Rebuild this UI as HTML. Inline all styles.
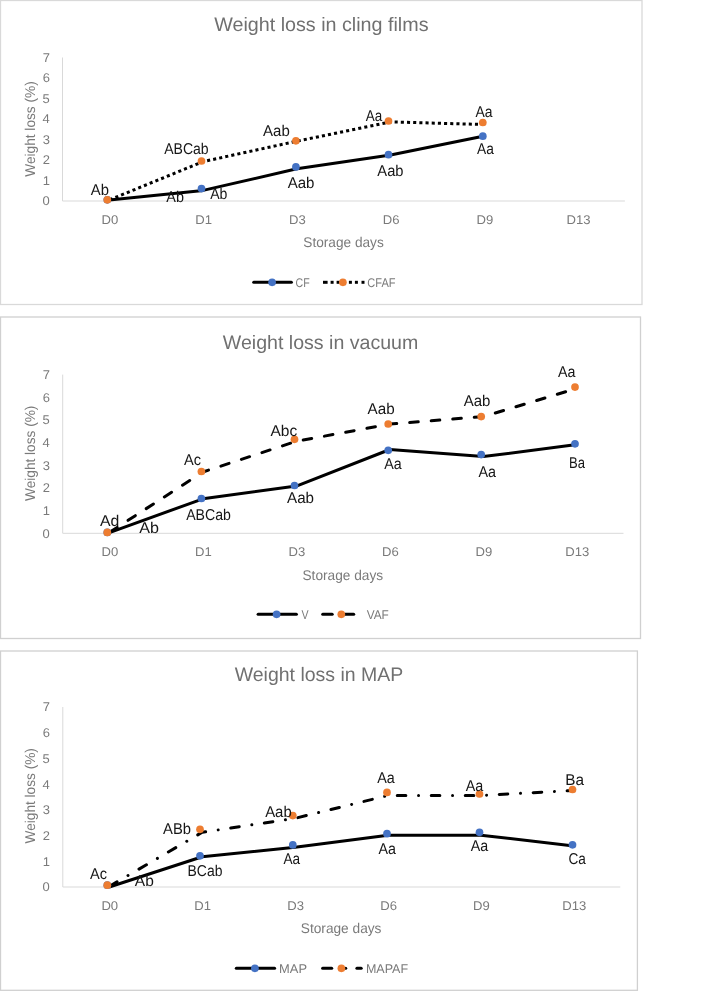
<!DOCTYPE html>
<html><head><meta charset="utf-8"><title>Weight loss charts</title>
<style>
html,body{margin:0;padding:0;background:#fff;}
body{width:722px;height:992px;overflow:hidden;}
svg{display:block;will-change:transform;}
text{font-family:"Liberation Sans", sans-serif;text-rendering:geometricPrecision;}
</style></head>
<body>
<svg width="722" height="992" viewBox="0 0 722 992">
<rect x="0" y="0" width="722" height="992" fill="#fff"/>
<rect x="0.5" y="0.5" width="641.5" height="304.0" fill="#fff" stroke="#d9d9d9" stroke-width="1.3"/>
<text x="214.21" y="31.00" font-size="19.5" fill="#707070" textLength="214.30" lengthAdjust="spacingAndGlyphs">Weight loss in cling films</text>
<line x1="62.5" y1="57.5" x2="62.5" y2="201" stroke="#d9d9d9" stroke-width="1"/>
<line x1="62.5" y1="201" x2="624.9" y2="201" stroke="#d9d9d9" stroke-width="1"/>
<text x="42.59" y="205.40" font-size="12.6" fill="#7a7a7a" textLength="7.22" lengthAdjust="spacingAndGlyphs">0</text>
<text x="42.72" y="184.90" font-size="12.6" fill="#7a7a7a" textLength="7.22" lengthAdjust="spacingAndGlyphs">1</text>
<text x="42.73" y="164.40" font-size="12.6" fill="#7a7a7a" textLength="7.22" lengthAdjust="spacingAndGlyphs">2</text>
<text x="42.65" y="143.90" font-size="12.6" fill="#7a7a7a" textLength="7.22" lengthAdjust="spacingAndGlyphs">3</text>
<text x="42.46" y="123.40" font-size="12.6" fill="#7a7a7a" textLength="7.22" lengthAdjust="spacingAndGlyphs">4</text>
<text x="42.63" y="102.90" font-size="12.6" fill="#7a7a7a" textLength="7.22" lengthAdjust="spacingAndGlyphs">5</text>
<text x="42.65" y="82.40" font-size="12.6" fill="#7a7a7a" textLength="7.22" lengthAdjust="spacingAndGlyphs">6</text>
<text x="42.73" y="61.90" font-size="12.6" fill="#7a7a7a" textLength="7.22" lengthAdjust="spacingAndGlyphs">7</text>
<text transform="translate(34.9,129.4) rotate(-90)" x="-47.31" y="0" font-size="14.2" fill="#7a7a7a" textLength="95.40" lengthAdjust="spacingAndGlyphs">Weight loss (%)</text>
<text x="101.51" y="223.60" font-size="12.6" fill="#7a7a7a" textLength="16.75" lengthAdjust="spacingAndGlyphs">D0</text>
<text x="195.31" y="223.60" font-size="12.6" fill="#7a7a7a" textLength="16.75" lengthAdjust="spacingAndGlyphs">D1</text>
<text x="289.01" y="223.60" font-size="12.6" fill="#7a7a7a" textLength="16.75" lengthAdjust="spacingAndGlyphs">D3</text>
<text x="382.74" y="223.60" font-size="12.6" fill="#7a7a7a" textLength="16.75" lengthAdjust="spacingAndGlyphs">D6</text>
<text x="476.50" y="223.60" font-size="12.6" fill="#7a7a7a" textLength="16.75" lengthAdjust="spacingAndGlyphs">D9</text>
<text x="566.56" y="223.60" font-size="12.6" fill="#7a7a7a" textLength="24.04" lengthAdjust="spacingAndGlyphs">D13</text>
<text x="303.28" y="247.00" font-size="14.1" fill="#7a7a7a" textLength="80.51" lengthAdjust="spacingAndGlyphs">Storage days</text>
<polyline points="109.37,199.90 203.10,161.60 296.83,141.20 390.57,121.90 484.30,124.50" fill="none" stroke="#000" stroke-width="3" stroke-dasharray="3.09 3.09" stroke-dashoffset="5.875" stroke-linecap="butt" stroke-linejoin="round"/>
<polyline points="109.37,200.00 203.10,190.40 296.83,168.80 390.57,155.00 484.30,136.00" fill="none" stroke="#000" stroke-width="3" stroke-linejoin="round"/>
<circle cx="107.3" cy="199.8" r="3.85" fill="#4472C4"/>
<circle cx="201.5" cy="188.6" r="3.85" fill="#4472C4"/>
<circle cx="295.9" cy="166.9" r="3.85" fill="#4472C4"/>
<circle cx="388.5" cy="154.7" r="3.85" fill="#4472C4"/>
<circle cx="482.8" cy="136.2" r="3.85" fill="#4472C4"/>
<circle cx="107.3" cy="199.8" r="3.85" fill="#ED7D31"/>
<circle cx="201.5" cy="161" r="3.85" fill="#ED7D31"/>
<circle cx="295.9" cy="140.8" r="3.85" fill="#ED7D31"/>
<circle cx="388.5" cy="121" r="3.85" fill="#ED7D31"/>
<circle cx="482.8" cy="122.5" r="3.85" fill="#ED7D31"/>
<text x="90.77" y="194.50" font-size="15.6" fill="#161616" textLength="18.15" lengthAdjust="spacingAndGlyphs">Ab</text>
<text x="166.37" y="201.70" font-size="15.6" fill="#161616" textLength="17.63" lengthAdjust="spacingAndGlyphs">Ab</text>
<text x="210.17" y="199.20" font-size="15.6" fill="#161616" textLength="17.22" lengthAdjust="spacingAndGlyphs">Ab</text>
<text x="287.67" y="187.90" font-size="15.6" fill="#161616" textLength="26.76" lengthAdjust="spacingAndGlyphs">Aab</text>
<text x="377.37" y="175.80" font-size="15.6" fill="#161616" textLength="26.15" lengthAdjust="spacingAndGlyphs">Aab</text>
<text x="476.97" y="154.20" font-size="15.6" fill="#161616" textLength="16.83" lengthAdjust="spacingAndGlyphs">Aa</text>
<text x="164.17" y="154.10" font-size="15.6" fill="#161616" textLength="44.52" lengthAdjust="spacingAndGlyphs">ABCab</text>
<text x="263.07" y="135.90" font-size="15.6" fill="#161616" textLength="26.66" lengthAdjust="spacingAndGlyphs">Aab</text>
<text x="365.87" y="120.50" font-size="15.6" fill="#161616" textLength="16.43" lengthAdjust="spacingAndGlyphs">Aa</text>
<text x="475.47" y="117.20" font-size="15.6" fill="#161616" textLength="17.03" lengthAdjust="spacingAndGlyphs">Aa</text>
<line x1="253.7" y1="282.3" x2="291.4" y2="282.3" stroke="#000" stroke-width="3" stroke-linecap="round"/>
<circle cx="272.1" cy="282.3" r="3.85" fill="#4472C4"/>
<line x1="323" y1="282.3" x2="327.6" y2="282.3" stroke="#000" stroke-width="3" stroke-linecap="butt"/>
<line x1="330.6" y1="282.3" x2="333.6" y2="282.3" stroke="#000" stroke-width="3" stroke-linecap="butt"/>
<line x1="336.6" y1="282.3" x2="339.6" y2="282.3" stroke="#000" stroke-width="3" stroke-linecap="butt"/>
<line x1="348.9" y1="282.3" x2="351.9" y2="282.3" stroke="#000" stroke-width="3" stroke-linecap="butt"/>
<line x1="354.9" y1="282.3" x2="357.9" y2="282.3" stroke="#000" stroke-width="3" stroke-linecap="butt"/>
<line x1="361.5" y1="282.3" x2="364.5" y2="282.3" stroke="#000" stroke-width="3" stroke-linecap="butt"/>
<circle cx="342.9" cy="282.3" r="3.85" fill="#ED7D31"/>
<text x="295.56" y="286.80" font-size="12.6" fill="#7a7a7a" textLength="14.17" lengthAdjust="spacingAndGlyphs">CF</text>
<text x="367.35" y="286.80" font-size="12.6" fill="#7a7a7a" textLength="28.18" lengthAdjust="spacingAndGlyphs">CFAF</text>
<rect x="0.5" y="317" width="640.0" height="321.5" fill="#fff" stroke="#d0d0d0" stroke-width="1.3"/>
<text x="222.81" y="349.00" font-size="19.5" fill="#707070" textLength="195.47" lengthAdjust="spacingAndGlyphs">Weight loss in vacuum</text>
<line x1="62.7" y1="374.6" x2="62.7" y2="533.3" stroke="#d9d9d9" stroke-width="1"/>
<line x1="62.7" y1="533.3" x2="623.5" y2="533.3" stroke="#d9d9d9" stroke-width="1"/>
<text x="42.59" y="537.70" font-size="12.6" fill="#7a7a7a" textLength="7.22" lengthAdjust="spacingAndGlyphs">0</text>
<text x="42.72" y="515.03" font-size="12.6" fill="#7a7a7a" textLength="7.22" lengthAdjust="spacingAndGlyphs">1</text>
<text x="42.73" y="492.36" font-size="12.6" fill="#7a7a7a" textLength="7.22" lengthAdjust="spacingAndGlyphs">2</text>
<text x="42.65" y="469.69" font-size="12.6" fill="#7a7a7a" textLength="7.22" lengthAdjust="spacingAndGlyphs">3</text>
<text x="42.46" y="447.01" font-size="12.6" fill="#7a7a7a" textLength="7.22" lengthAdjust="spacingAndGlyphs">4</text>
<text x="42.63" y="424.34" font-size="12.6" fill="#7a7a7a" textLength="7.22" lengthAdjust="spacingAndGlyphs">5</text>
<text x="42.65" y="401.67" font-size="12.6" fill="#7a7a7a" textLength="7.22" lengthAdjust="spacingAndGlyphs">6</text>
<text x="42.73" y="379.00" font-size="12.6" fill="#7a7a7a" textLength="7.22" lengthAdjust="spacingAndGlyphs">7</text>
<text transform="translate(34.9,453.7) rotate(-90)" x="-47.31" y="0" font-size="14.2" fill="#7a7a7a" textLength="95.40" lengthAdjust="spacingAndGlyphs">Weight loss (%)</text>
<text x="101.58" y="556.10" font-size="12.6" fill="#7a7a7a" textLength="16.75" lengthAdjust="spacingAndGlyphs">D0</text>
<text x="195.11" y="556.10" font-size="12.6" fill="#7a7a7a" textLength="16.75" lengthAdjust="spacingAndGlyphs">D1</text>
<text x="288.54" y="556.10" font-size="12.6" fill="#7a7a7a" textLength="16.75" lengthAdjust="spacingAndGlyphs">D3</text>
<text x="382.01" y="556.10" font-size="12.6" fill="#7a7a7a" textLength="16.75" lengthAdjust="spacingAndGlyphs">D6</text>
<text x="475.50" y="556.10" font-size="12.6" fill="#7a7a7a" textLength="16.75" lengthAdjust="spacingAndGlyphs">D9</text>
<text x="565.30" y="556.10" font-size="12.6" fill="#7a7a7a" textLength="24.04" lengthAdjust="spacingAndGlyphs">D13</text>
<text x="302.48" y="579.50" font-size="14.1" fill="#7a7a7a" textLength="80.62" lengthAdjust="spacingAndGlyphs">Storage days</text>
<polyline points="109.43,532.40 202.90,472.00 296.37,441.30 389.83,424.10 483.30,416.60 576.77,388.40" fill="none" stroke="#000" stroke-width="3" stroke-dasharray="8.6 13.0" stroke-dashoffset="20.989" stroke-linecap="round" stroke-linejoin="round"/>
<polyline points="109.43,532.60 202.90,498.80 296.37,486.10 389.83,449.50 483.30,456.60 576.77,444.60" fill="none" stroke="#000" stroke-width="3" stroke-linejoin="round"/>
<circle cx="107.3" cy="532.4" r="3.85" fill="#4472C4"/>
<circle cx="201.4" cy="498.5" r="3.85" fill="#4472C4"/>
<circle cx="294.5" cy="485.5" r="3.85" fill="#4472C4"/>
<circle cx="388.2" cy="450.3" r="3.85" fill="#4472C4"/>
<circle cx="481.2" cy="454.6" r="3.85" fill="#4472C4"/>
<circle cx="575" cy="443.8" r="3.85" fill="#4472C4"/>
<circle cx="107.3" cy="532.4" r="3.85" fill="#ED7D31"/>
<circle cx="201.4" cy="471.5" r="3.85" fill="#ED7D31"/>
<circle cx="294.5" cy="439.3" r="3.85" fill="#ED7D31"/>
<circle cx="388.2" cy="424" r="3.85" fill="#ED7D31"/>
<circle cx="481.2" cy="416.6" r="3.85" fill="#ED7D31"/>
<circle cx="575" cy="387.1" r="3.85" fill="#ED7D31"/>
<text x="99.97" y="526.20" font-size="15.6" fill="#161616" textLength="19.35" lengthAdjust="spacingAndGlyphs">Ad</text>
<text x="139.17" y="532.50" font-size="15.6" fill="#161616" textLength="19.71" lengthAdjust="spacingAndGlyphs">Ab</text>
<text x="186.17" y="520.40" font-size="15.6" fill="#161616" textLength="44.72" lengthAdjust="spacingAndGlyphs">ABCab</text>
<text x="287.07" y="502.60" font-size="15.6" fill="#161616" textLength="26.97" lengthAdjust="spacingAndGlyphs">Aab</text>
<text x="384.27" y="469.10" font-size="15.6" fill="#161616" textLength="17.43" lengthAdjust="spacingAndGlyphs">Aa</text>
<text x="478.47" y="476.80" font-size="15.6" fill="#161616" textLength="17.53" lengthAdjust="spacingAndGlyphs">Aa</text>
<text x="568.93" y="467.70" font-size="15.6" fill="#161616" textLength="15.97" lengthAdjust="spacingAndGlyphs">Ba</text>
<text x="184.07" y="465.40" font-size="15.6" fill="#161616" textLength="17.01" lengthAdjust="spacingAndGlyphs">Ac</text>
<text x="270.47" y="436.10" font-size="15.6" fill="#161616" textLength="26.74" lengthAdjust="spacingAndGlyphs">Abc</text>
<text x="367.57" y="413.60" font-size="15.6" fill="#161616" textLength="27.07" lengthAdjust="spacingAndGlyphs">Aab</text>
<text x="463.77" y="406.30" font-size="15.6" fill="#161616" textLength="26.66" lengthAdjust="spacingAndGlyphs">Aab</text>
<text x="557.97" y="376.80" font-size="15.6" fill="#161616" textLength="17.43" lengthAdjust="spacingAndGlyphs">Aa</text>
<line x1="258.1" y1="614.35" x2="296.4" y2="614.35" stroke="#000" stroke-width="3" stroke-linecap="round"/>
<circle cx="276.6" cy="614.35" r="3.85" fill="#4472C4"/>
<line x1="322.7" y1="614.35" x2="332.2" y2="614.35" stroke="#000" stroke-width="3" stroke-linecap="round"/>
<line x1="344.7" y1="614.35" x2="353.7" y2="614.35" stroke="#000" stroke-width="3" stroke-linecap="round"/>
<circle cx="341.3" cy="614.35" r="3.85" fill="#ED7D31"/>
<text x="301.55" y="619.30" font-size="12.6" fill="#7a7a7a" textLength="7.09" lengthAdjust="spacingAndGlyphs">V</text>
<text x="366.65" y="619.30" font-size="12.6" fill="#7a7a7a" textLength="22.11" lengthAdjust="spacingAndGlyphs">VAF</text>
<rect x="0.5" y="651" width="636.9" height="339.29999999999995" fill="#fff" stroke="#d0d0d0" stroke-width="1.3"/>
<text x="234.71" y="681.00" font-size="19.5" fill="#707070" textLength="168.51" lengthAdjust="spacingAndGlyphs">Weight loss in MAP</text>
<line x1="62.8" y1="707" x2="62.8" y2="887.0" stroke="#d9d9d9" stroke-width="1"/>
<line x1="62.8" y1="887.0" x2="620.3" y2="887.0" stroke="#d9d9d9" stroke-width="1"/>
<text x="42.59" y="891.40" font-size="12.6" fill="#7a7a7a" textLength="7.22" lengthAdjust="spacingAndGlyphs">0</text>
<text x="42.72" y="865.69" font-size="12.6" fill="#7a7a7a" textLength="7.22" lengthAdjust="spacingAndGlyphs">1</text>
<text x="42.73" y="839.97" font-size="12.6" fill="#7a7a7a" textLength="7.22" lengthAdjust="spacingAndGlyphs">2</text>
<text x="42.65" y="814.26" font-size="12.6" fill="#7a7a7a" textLength="7.22" lengthAdjust="spacingAndGlyphs">3</text>
<text x="42.46" y="788.54" font-size="12.6" fill="#7a7a7a" textLength="7.22" lengthAdjust="spacingAndGlyphs">4</text>
<text x="42.63" y="762.83" font-size="12.6" fill="#7a7a7a" textLength="7.22" lengthAdjust="spacingAndGlyphs">5</text>
<text x="42.65" y="737.11" font-size="12.6" fill="#7a7a7a" textLength="7.22" lengthAdjust="spacingAndGlyphs">6</text>
<text x="42.73" y="711.40" font-size="12.6" fill="#7a7a7a" textLength="7.22" lengthAdjust="spacingAndGlyphs">7</text>
<text transform="translate(34.9,796.2) rotate(-90)" x="-47.31" y="0" font-size="14.2" fill="#7a7a7a" textLength="95.40" lengthAdjust="spacingAndGlyphs">Weight loss (%)</text>
<text x="101.40" y="909.50" font-size="12.6" fill="#7a7a7a" textLength="16.75" lengthAdjust="spacingAndGlyphs">D0</text>
<text x="194.38" y="909.50" font-size="12.6" fill="#7a7a7a" textLength="16.75" lengthAdjust="spacingAndGlyphs">D1</text>
<text x="287.27" y="909.50" font-size="12.6" fill="#7a7a7a" textLength="16.75" lengthAdjust="spacingAndGlyphs">D3</text>
<text x="380.18" y="909.50" font-size="12.6" fill="#7a7a7a" textLength="16.75" lengthAdjust="spacingAndGlyphs">D6</text>
<text x="473.12" y="909.50" font-size="12.6" fill="#7a7a7a" textLength="16.75" lengthAdjust="spacingAndGlyphs">D9</text>
<text x="562.37" y="909.50" font-size="12.6" fill="#7a7a7a" textLength="24.04" lengthAdjust="spacingAndGlyphs">D13</text>
<text x="300.78" y="933.20" font-size="14.1" fill="#7a7a7a" textLength="80.72" lengthAdjust="spacingAndGlyphs">Storage days</text>
<polyline points="109.26,886.40 202.18,832.30 295.09,818.30 388.01,795.50 480.93,795.50 573.84,790.50" fill="none" stroke="#000" stroke-width="3" stroke-dasharray="8.6 12.7 0.01 12.69" stroke-dashoffset="33.603" stroke-linecap="round" stroke-linejoin="round"/>
<polyline points="109.26,887.00 202.18,856.80 295.09,847.20 388.01,835.20 480.93,835.20 573.84,846.00" fill="none" stroke="#000" stroke-width="3" stroke-linejoin="round"/>
<circle cx="107.3" cy="885.2" r="3.85" fill="#4472C4"/>
<circle cx="200" cy="855.8" r="3.85" fill="#4472C4"/>
<circle cx="292.8" cy="844.9" r="3.85" fill="#4472C4"/>
<circle cx="387" cy="833.7" r="3.85" fill="#4472C4"/>
<circle cx="479.5" cy="832.3" r="3.85" fill="#4472C4"/>
<circle cx="572.5" cy="844.8" r="3.85" fill="#4472C4"/>
<circle cx="107.3" cy="885.2" r="3.85" fill="#ED7D31"/>
<circle cx="200" cy="829.3" r="3.85" fill="#ED7D31"/>
<circle cx="292.8" cy="815.6" r="3.85" fill="#ED7D31"/>
<circle cx="387" cy="792.4" r="3.85" fill="#ED7D31"/>
<circle cx="479.5" cy="794" r="3.85" fill="#ED7D31"/>
<circle cx="572.5" cy="789.5" r="3.85" fill="#ED7D31"/>
<text x="89.97" y="878.60" font-size="15.6" fill="#161616" textLength="17.01" lengthAdjust="spacingAndGlyphs">Ac</text>
<text x="134.87" y="886.20" font-size="15.6" fill="#161616" textLength="18.98" lengthAdjust="spacingAndGlyphs">Ab</text>
<text x="187.56" y="875.60" font-size="15.6" fill="#161616" textLength="34.83" lengthAdjust="spacingAndGlyphs">BCab</text>
<text x="283.47" y="863.60" font-size="15.6" fill="#161616" textLength="16.63" lengthAdjust="spacingAndGlyphs">Aa</text>
<text x="378.47" y="854.30" font-size="15.6" fill="#161616" textLength="17.43" lengthAdjust="spacingAndGlyphs">Aa</text>
<text x="470.77" y="850.50" font-size="15.6" fill="#161616" textLength="17.43" lengthAdjust="spacingAndGlyphs">Aa</text>
<text x="568.51" y="864.40" font-size="15.6" fill="#161616" textLength="17.39" lengthAdjust="spacingAndGlyphs">Ca</text>
<text x="163.07" y="834.40" font-size="15.6" fill="#161616" textLength="27.95" lengthAdjust="spacingAndGlyphs">ABb</text>
<text x="265.17" y="816.50" font-size="15.6" fill="#161616" textLength="26.56" lengthAdjust="spacingAndGlyphs">Aab</text>
<text x="377.27" y="783.00" font-size="15.6" fill="#161616" textLength="17.53" lengthAdjust="spacingAndGlyphs">Aa</text>
<text x="465.67" y="790.70" font-size="15.6" fill="#161616" textLength="17.53" lengthAdjust="spacingAndGlyphs">Aa</text>
<text x="565.24" y="784.50" font-size="15.6" fill="#161616" textLength="18.76" lengthAdjust="spacingAndGlyphs">Ba</text>
<line x1="236.3" y1="968.35" x2="274.6" y2="968.35" stroke="#000" stroke-width="3" stroke-linecap="round"/>
<circle cx="254.9" cy="968.35" r="3.85" fill="#4472C4"/>
<line x1="322.6" y1="968.35" x2="331.7" y2="968.35" stroke="#000" stroke-width="3" stroke-linecap="round"/>
<line x1="345.7" y1="968.35" x2="345.71" y2="968.35" stroke="#000" stroke-width="3" stroke-linecap="round"/>
<line x1="356.9" y1="968.35" x2="361.2" y2="968.35" stroke="#000" stroke-width="3" stroke-linecap="round"/>
<circle cx="341.4" cy="968.35" r="3.85" fill="#ED7D31"/>
<text x="279.14" y="973.20" font-size="12.6" fill="#7a7a7a" textLength="27.94" lengthAdjust="spacingAndGlyphs">MAP</text>
<text x="365.90" y="973.20" font-size="12.6" fill="#7a7a7a" textLength="42.20" lengthAdjust="spacingAndGlyphs">MAPAF</text>
</svg>
</body></html>
